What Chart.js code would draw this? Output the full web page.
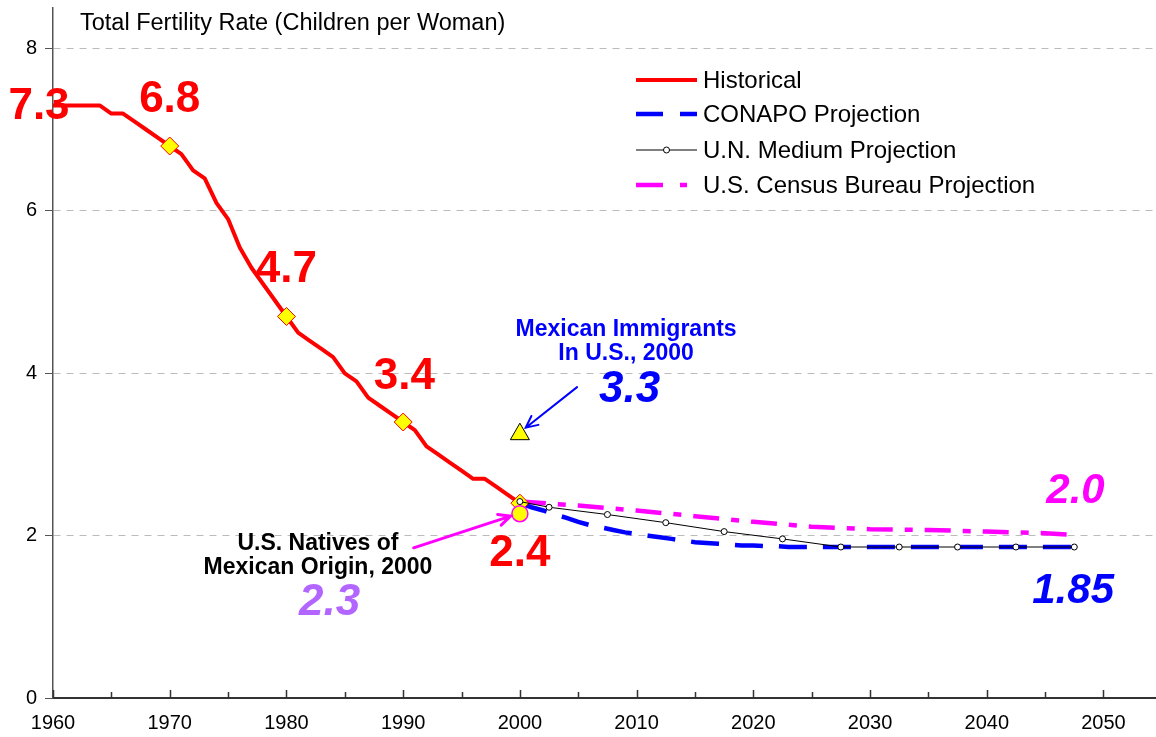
<!DOCTYPE html>
<html>
<head>
<meta charset="utf-8">
<script src="https://cdn.jsdelivr.net/npm/chart.js@4.4.0/dist/chart.umd.min.js"></script>
<style>
  html, body { margin: 0; padding: 0; background: #fff; }
</style>
</head>
<body>
<canvas id="chart" width="1156" height="737"></canvas>
<script>
const FONT = '"Liberation Sans", Arial, sans-serif'

// historical TFR, Mexico
const histYears = [1960, 1961, 1962, 1963, 1964, 1965, 1966, 1967, 1968, 1969,
    1970, 1971, 1972, 1973, 1974, 1975, 1976, 1977, 1978, 1979,
    1980, 1981, 1982, 1983, 1984, 1985, 1986, 1987, 1988, 1989,
    1990, 1991, 1992, 1993, 1994, 1995, 1996, 1997, 1998, 1999, 2000]
const histTfr = [7.3, 7.3, 7.3, 7.3, 7.3, 7.2, 7.2, 7.1, 7.0, 6.9,
    6.8, 6.7, 6.5, 6.4, 6.1, 5.9, 5.55, 5.3, 5.1, 4.9,
    4.7, 4.5, 4.4, 4.3, 4.2, 4.0, 3.9, 3.7, 3.6, 3.5,
    3.4, 3.3, 3.1, 3.0, 2.9, 2.8, 2.7, 2.7, 2.6, 2.5, 2.4]
const markerYears = [1970, 1980, 1990, 2000]

// projections
const conapoYears = [2000, 2001, 2002, 2003, 2004, 2005, 2006, 2007, 2008, 2009,
    2010, 2011, 2012, 2013, 2014, 2015, 2016, 2017, 2018, 2019,
    2020, 2021, 2022, 2023, 2025, 2030, 2035, 2040, 2045, 2047.5]
const conapoTfr = [2.4, 2.35, 2.31, 2.26, 2.22, 2.17, 2.13, 2.1, 2.07, 2.04,
    2.02, 2.0, 1.98, 1.96, 1.94, 1.92, 1.91, 1.9, 1.89, 1.88,
    1.88, 1.87, 1.87, 1.86, 1.86, 1.86, 1.86, 1.86, 1.86, 1.86]

const unYears = [2000, 2002.5, 2007.5, 2012.5, 2017.5, 2022.5, 2027.5, 2032.5, 2037.5, 2042.5, 2047.5]
const unTfr = [2.42, 2.35, 2.26, 2.16, 2.05, 1.96, 1.86, 1.86, 1.86, 1.86, 1.86]

const censusYears = [2000, 2005, 2010, 2015, 2020, 2025, 2030, 2035, 2040, 2045, 2047.5]
const censusTfr = [2.42, 2.37, 2.31, 2.24, 2.17, 2.11, 2.08, 2.07, 2.05, 2.03, 2.01]

// single points for 2000
const immigrantsTfr = 3.25
const nativesTfr = 2.27
const pointYear = 2000

const xTickYears = [1960, 1970, 1980, 1990, 2000, 2010, 2020, 2030, 2040, 2050]
const yTickValues = [0, 2, 4, 6, 8]

const legendNames = ['Historical', 'CONAPO Projection', 'U.N. Medium Projection', 'U.S. Census Bureau Projection']

// text annotations, anchored in data units
const notes = [
    {text: '7.3', x: 1958.8, y: 7.28, color: '#FF0000', size: 44, italic: false},
    {text: '6.8', x: 1970.0, y: 7.37, color: '#FF0000', size: 44, italic: false},
    {text: '4.7', x: 1980.0, y: 5.28, color: '#FF0000', size: 44, italic: false},
    {text: '3.4', x: 1990.1, y: 3.96, color: '#FF0000', size: 44, italic: false},
    {text: '2.4', x: 2000.0, y: 1.78, color: '#FF0000', size: 44, italic: false},
    {text: '3.3', x: 2009.4, y: 3.80, color: '#0000FF', size: 44, italic: true},
    {text: '2.3', x: 1983.7, y: 1.17, color: '#B266FF', size: 44, italic: true},
    {text: '2.0', x: 2047.6, y: 2.54, color: '#FF00FF', size: 42, italic: true},
    {text: '1.85', x: 2047.4, y: 1.31, color: '#0000FF', size: 42, italic: true},
    {text: 'Mexican Immigrants', x: 2009.1, y: 4.54, color: '#0000FF', size: 23, italic: false},
    {text: 'In U.S., 2000', x: 2009.1, y: 4.24, color: '#0000FF', size: 23, italic: false},
    {text: 'U.S. Natives of', x: 1982.7, y: 1.90, color: '#000000', size: 23, italic: false},
    {text: 'Mexican Origin, 2000', x: 1982.7, y: 1.60, color: '#000000', size: 23, italic: false}
]
const arrows = [
    {from: [2004.9, 3.83], to: [2000.5, 3.33], color: '#0000FF', width: 2},
    {from: [1990.9, 1.85], to: [1999.2, 2.24], color: '#FF00FF', width: 3}
]

function pts(xs, ys) {
    return xs.map((x, i) => ({x: x, y: ys[i]}))
}

function drawArrow(ctx, x1, y1, x2, y2, color, width) {
    const ang = Math.atan2(y2 - y1, x2 - x1)
    const head = 13
    ctx.save()
    ctx.strokeStyle = color
    ctx.lineWidth = width
    ctx.lineCap = 'round'
    ctx.beginPath()
    ctx.moveTo(x1, y1)
    ctx.lineTo(x2, y2)
    ctx.moveTo(x2 - head * Math.cos(ang - 0.45), y2 - head * Math.sin(ang - 0.45))
    ctx.lineTo(x2, y2)
    ctx.lineTo(x2 - head * Math.cos(ang + 0.45), y2 - head * Math.sin(ang + 0.45))
    ctx.stroke()
    ctx.restore()
}

const decorations = {
    id: 'decorations',
    beforeDatasetsDraw(chart) {
        // inner x ticks every 5 years
        const ctx = chart.ctx
        const xs = chart.scales.x
        const bottom = chart.chartArea.bottom
        ctx.save()
        ctx.strokeStyle = '#333'
        ctx.lineWidth = 1.5
        ctx.beginPath()
        for (let yr = 1960; yr <= 2050; yr += 5) {
            const px = Math.round(xs.getPixelForValue(yr)) + 0.5
            const len = yr % 10 === 0 ? 8 : 6
            ctx.moveTo(px, bottom)
            ctx.lineTo(px, bottom - len)
        }
        ctx.stroke()
        ctx.restore()
    },
    afterDatasetsDraw(chart) {
        const ctx = chart.ctx
        const xs = chart.scales.x
        const ys = chart.scales.y

        ctx.save()
        // axis title
        ctx.fillStyle = '#000'
        ctx.font = '23.5px ' + FONT
        ctx.textAlign = 'left'
        ctx.textBaseline = 'middle'
        ctx.fillText('Total Fertility Rate (Children per Woman)', 80, 24)

        ctx.textAlign = 'center'
        notes.forEach(n => {
            ctx.fillStyle = n.color
            ctx.font = (n.italic ? 'italic ' : '') + 'bold ' + n.size + 'px ' + FONT
            ctx.fillText(n.text, xs.getPixelForValue(n.x), ys.getPixelForValue(n.y))
        })

        arrows.forEach(a => {
            drawArrow(ctx,
                xs.getPixelForValue(a.from[0]), ys.getPixelForValue(a.from[1]),
                xs.getPixelForValue(a.to[0]), ys.getPixelForValue(a.to[1]),
                a.color, a.width)
        })

        // legend
        const lx = 636, lw = 61
        const rows = [80, 114, 150, 185]
        ctx.font = '24px ' + FONT
        ctx.textAlign = 'left'
        ctx.fillStyle = '#000'
        legendNames.forEach((name, i) => {
            ctx.fillText(name, lx + lw + 6, rows[i] + 1)
        })
        ctx.lineCap = 'butt'
        // historical
        ctx.strokeStyle = '#FF0000'
        ctx.lineWidth = 4
        ctx.beginPath(); ctx.moveTo(lx, rows[0]); ctx.lineTo(lx + lw, rows[0]); ctx.stroke()
        // conapo
        ctx.strokeStyle = '#0000FF'
        ctx.lineWidth = 4.5
        ctx.setLineDash([27, 17])
        ctx.beginPath(); ctx.moveTo(lx, rows[1]); ctx.lineTo(lx + lw, rows[1]); ctx.stroke()
        // census
        ctx.strokeStyle = '#FF00FF'
        ctx.setLineDash([27, 17, 7, 40])
        ctx.beginPath(); ctx.moveTo(lx, rows[3]); ctx.lineTo(lx + lw, rows[3]); ctx.stroke()
        ctx.setLineDash([])
        // un
        ctx.strokeStyle = '#000'
        ctx.lineWidth = 1
        ctx.beginPath(); ctx.moveTo(lx, rows[2]); ctx.lineTo(lx + lw, rows[2]); ctx.stroke()
        ctx.fillStyle = '#fff'
        ctx.beginPath(); ctx.arc(lx + lw / 2, rows[2], 3, 0, Math.PI * 2); ctx.fill(); ctx.stroke()
        ctx.restore()
    }
}

const datasets = [
    {
        label: 'U.N. Medium Projection',
        data: pts(unYears, unTfr),
        borderColor: '#000',
        borderWidth: 1,
        pointRadius: 3,
        pointBackgroundColor: '#fff',
        pointBorderColor: '#000',
        pointBorderWidth: 1
    },
    {
        label: 'Mexican Immigrants',
        data: [{x: pointYear, y: immigrantsTfr}],
        showLine: false,
        pointStyle: 'triangle',
        pointRadius: 11,
        pointBackgroundColor: '#FFFF00',
        pointBorderColor: '#000',
        pointBorderWidth: 1
    },
    {
        label: 'U.S. Natives',
        data: [{x: pointYear, y: nativesTfr}],
        showLine: false,
        pointRadius: 8,
        pointBackgroundColor: '#FFFF00',
        pointBorderColor: '#FF00FF',
        pointBorderWidth: 1.5
    },
    {
        label: 'Historical',
        data: pts(histYears, histTfr),
        borderColor: '#FF0000',
        borderWidth: 4,
        borderJoinStyle: 'round',
        pointStyle: 'rectRot',
        pointRadius: ctx => markerYears.includes(histYears[ctx.dataIndex]) ? 9 : 0,
        pointBackgroundColor: '#FFFF00',
        pointBorderColor: '#FF0000',
        pointBorderWidth: 1
    },
    {
        label: 'CONAPO Projection',
        data: pts(conapoYears, conapoTfr),
        borderColor: '#0000FF',
        borderWidth: 4.5,
        borderDash: [28, 16],
        pointRadius: 0
    },
    {
        label: 'U.S. Census Bureau Projection',
        data: pts(censusYears, censusTfr),
        borderColor: '#FF00FF',
        borderWidth: 4.5,
        borderDash: [26, 12, 8, 12],
        pointRadius: 0
    }
]

new Chart(document.getElementById('chart'), {
    type: 'line',
    data: {datasets: datasets},
    options: {
        responsive: false,
        animation: false,
        layout: {autoPadding: false, padding: {top: 8, right: 0, left: 0, bottom: 0}},
        plugins: {
            legend: {display: false},
            tooltip: {enabled: false}
        },
        scales: {
            x: {
                type: 'linear',
                min: 1960,
                max: 2054.5,
                afterBuildTicks: s => { s.ticks = xTickYears.map(v => ({value: v})) },
                afterFit: s => { s.height = 39; s.paddingLeft = 0; s.paddingRight = 0 },
                grid: {display: false, drawTicks: false},
                border: {display: true, color: '#333', width: 2},
                ticks: {
                    color: '#000',
                    font: {size: 20, family: FONT},
                    padding: 13,
                    maxRotation: 0,
                    autoSkip: false,
                    callback: v => String(v)
                }
            },
            y: {
                min: 0,
                max: 8.5,
                afterBuildTicks: s => { s.ticks = yTickValues.map(v => ({value: v})) },
                afterFit: s => { s.width = 53; s.paddingTop = 0; s.paddingBottom = 0 },
                grid: {
                    color: ctx => ctx.tick && ctx.tick.value === 0 ? 'rgba(0,0,0,0)' : '#BBBBBB',
                    lineWidth: 1,
                    tickColor: '#555',
                    tickLength: 8
                },
                border: {display: true, color: '#555', width: 1.5, dash: [7, 6]},
                ticks: {
                    color: '#000',
                    font: {size: 20, family: FONT},
                    padding: 8,
                    callback: v => String(v)
                }
            }
        }
    },
    plugins: [decorations]
})
</script>
</body>
</html>
